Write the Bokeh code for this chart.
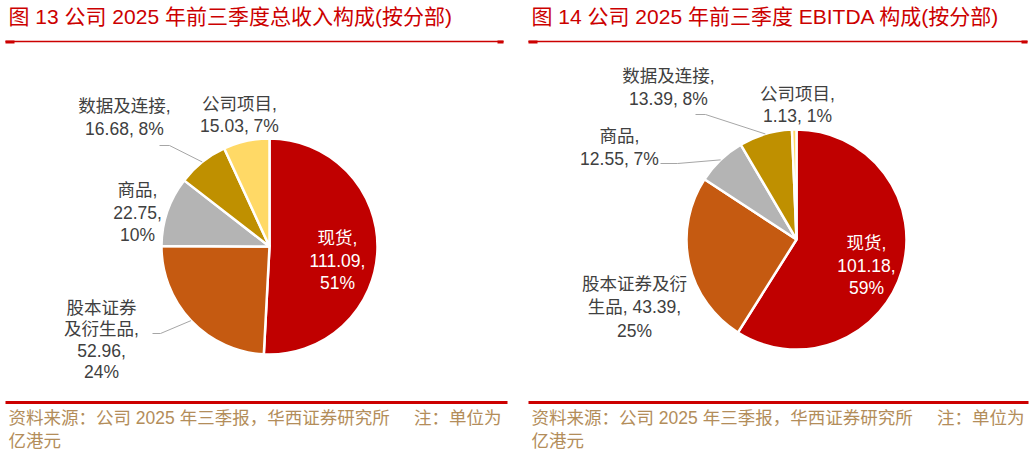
import math
from bokeh.plotting import figure
from bokeh.models import Range1d
from bokeh.core.properties import value
from bokeh.embed import file_html
from bokeh.resources import INLINE

# data (亿港元)
segments = ["现货", "股本证券及衍生品", "商品", "数据及连接", "公司项目"]
revenue = [111.09, 52.96, 22.75, 16.68, 15.03]
revenue_pct = [51, 24, 10, 8, 7]
ebitda = [101.18, 43.39, 12.55, 13.39, 1.13]
ebitda_pct = [59, 25, 7, 8, 1]
colors = ["#C00000", "#C55A11", "#B4B4B4", "#BF9000", "#FFD966"]

title_left = "图 13  公司 2025 年前三季度总收入构成(按分部)"
title_right = "图 14  公司 2025 年前三季度 EBITDA 构成(按分部)"
source_1 = "资料来源：公司 2025 年三季报，华西证券研究所\u00a0\u00a0\u00a0\u00a0\u00a0注：单位为"
source_2 = "亿港元"

FONT = value("'Liberation Sans', 'Noto Sans CJK SC', sans-serif")
RED = "#CC0000"
GOLD = "#B38D5A"
GREY_TXT = "#404040"


def Y(py):
    # page pixel row -> data y
    return 452 - py


p = figure(width=1032, height=452, x_range=Range1d(0, 1032), y_range=Range1d(0, 452),
           output_backend="svg", toolbar_location=None, min_border=0)
p.axis.visible = False
p.grid.visible = False
p.outline_line_color = None
p.background_fill_color = "white"
p.border_fill_color = "white"


def pie(cx, cy, r, vals, pcts, labels, leaders):
    total = sum(vals)
    cum = 0.0
    starts, ends, mids = [], [], []
    for v in vals:
        starts.append(math.pi / 2 - 2 * math.pi * cum / total)
        mids.append(math.pi / 2 - 2 * math.pi * (cum + v / 2) / total)
        cum += v
        ends.append(math.pi / 2 - 2 * math.pi * cum / total)
    p.wedge(x=[cx] * len(vals), y=[Y(cy)] * len(vals), radius=r, radius_units="screen",
            start_angle=starts, end_angle=ends, direction="clock",
            fill_color=colors, line_color="white", line_width=2.5)

    # leader lines to slice edge
    for i, (sx, ex, ey) in leaders.items():
        px = cx + r * math.cos(mids[i])
        py = cy - r * math.sin(mids[i])
        p.line([sx, ex, px], [Y(ey), Y(ey), Y(py)], line_color="#A6A6A6", line_width=1)

    # labels
    for i, (lx, ly, tpl, cut, lh) in enumerate(labels):
        name = segments[i]
        txt = tpl.format(n=name, a=name[:cut], b=name[cut:], v=f"{vals[i]:.2f}", p=pcts[i])
        lines = txt.split("\n")
        col = "white" if i == 0 else GREY_TXT
        p.text(x=[lx] * len(lines), y=[Y(ly + k * lh) for k in range(len(lines))], text=lines,
               text_align="center", text_baseline="middle", text_font=FONT,
               text_font_size="17.5px", text_color=col)


pie(269, 246, 108, revenue, revenue_pct,
    [(337, 237, "{n},\n{v},\n{p}%", 0, 22.5),
     (101, 307, "{a}\n{b},\n{v},\n{p}%", 4, 21.5),
     (137, 189, "{n},\n{v},\n{p}%", 0, 22.5),
     (124, 105, "{n},\n{v}, {p}%", 0, 23),
     (239, 103, "{n},\n{v}, {p}%", 0, 22.5)],
    {3: (159, 169, 145), 1: (152, 160, 333)})

pie(796, 239, 110, ebitda, ebitda_pct,
    [(866, 242, "{n},\n{v},\n{p}%", 0, 22.5),
     (634, 283, "{a}\n{b}, {v},\n{p}%", 6, 23.5),
     (619, 135, "{n},\n{v}, {p}%", 0, 23),
     (668, 75, "{n},\n{v}, {p}%", 0, 23),
     (797, 93, "{n},\n{v}, {p}%", 0, 22)],
    {3: (695, 705, 114), 2: (660, 677, 163)})

# headers
for x0, x1, t in [(5, 503, title_left), (528, 1027, title_right)]:
    p.text(x=[x0 + 3], y=[Y(16)], text=[t], text_align="left", text_baseline="middle",
           text_font=FONT, text_font_size="21px", text_color=RED)
    p.line([x0, x1], [Y(41), Y(41)], line_color=RED, line_width=1.5)
    p.line([x0, x0 + 9], [Y(41.5), Y(41.5)], line_color=RED, line_width=3)
    p.line([x1 - 6, x1], [Y(41.5), Y(41.5)], line_color=RED, line_width=3)

# footers
for x0, x1 in [(5, 507), (528, 1028)]:
    p.line([x0, x1], [Y(402), Y(402)], line_color=RED, line_width=3)
    p.text(x=[x0 + 3, x0 + 3], y=[Y(417), Y(440)], text=[source_1, source_2],
           text_align="left", text_baseline="middle", text_font=FONT,
           text_font_size="17.5px", text_color=GOLD)

open("out.html", "w").write(file_html(p, INLINE))
